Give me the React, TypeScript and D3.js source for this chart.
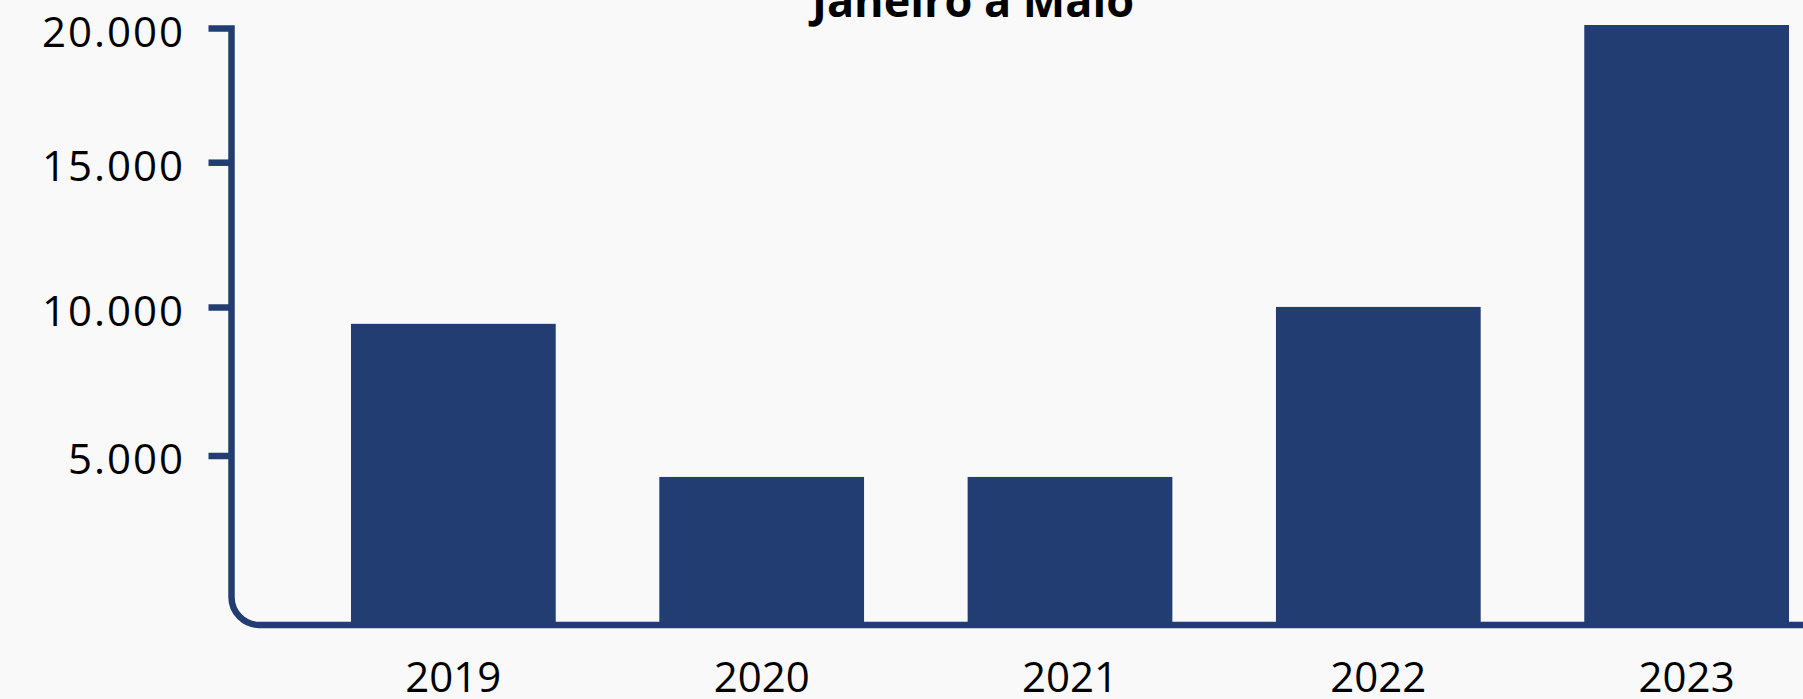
import React from "react";
import * as d3 from "d3";

const years = ["2019", "2020", "2021", "2022", "2023"];
const values = [9450, 4380, 4380, 10020, 20130];
const yTicks = [5000, 10000, 15000, 20000];
const title = "Janeiro a Maio";

const W = 1803;
const H = 699;
const BG = "#f9f9f9";
const NAVY = "#223d72";
const FONT = "'Open Sans', 'DejaVu Sans', sans-serif";

const ptBR = d3.formatLocale({
  decimal: ",",
  thousands: ".",
  grouping: [3],
  currency: ["R$", ""],
});
const fmt = ptBR.format(",");

export default function App() {
  const axisX = 231.5;
  const radius = 28;
  const y = d3
    .scaleLinear()
    .domain([0, 5000, 10000, 15000, 20000])
    .range([625, 456, 307.5, 162.7, 28.5]);
  const x = d3
    .scaleBand<string>()
    .domain(years)
    .range([351, 1789])
    .paddingInner(0.336)
    .paddingOuter(0);

  const y0 = y(0);
  const yTop = y(20000);
  const axisPath = `M${axisX - 23},${yTop} H${axisX} V${y0 - radius} A${radius},${radius} 0 0 0 ${axisX + radius},${y0} H${W}`;

  return (
    <svg
      width={W}
      height={H}
      style={{ position: "absolute", left: 0, top: 0, display: "block" }}
      fontFamily={FONT}
    >
      <rect x={0} y={0} width={W} height={H} fill={BG} />
      <text
        x={973}
        y={17}
        textAnchor="middle"
        fontWeight={700}
        fontSize={45}
        fill="#000"
      >
        {title}
      </text>
      {years.map((yr, i) => (
        <rect
          key={yr}
          x={x(yr)}
          y={y(values[i])}
          width={x.bandwidth()}
          height={y0 - y(values[i])}
          fill={NAVY}
        />
      ))}
      <path
        d={axisPath}
        fill="none"
        stroke={NAVY}
        strokeWidth={6.5}
        strokeLinejoin="miter"
      />
      {yTicks.slice(0, -1).map((t) => (
        <line
          key={t}
          x1={axisX - 23}
          x2={axisX}
          y1={y(t)}
          y2={y(t)}
          stroke={NAVY}
          strokeWidth={6.5}
        />
      ))}
      {yTicks.map((t) => (
        <text
          key={"l" + t}
          x={185}
          y={y(t) + 18}
          textAnchor="end"
          fontSize={42}
          letterSpacing={2}
          fill="#000"
        >
          {fmt(t)}
        </text>
      ))}
      {years.map((yr) => (
        <text
          key={"x" + yr}
          x={(x(yr) as number) + x.bandwidth() / 2}
          y={692}
          textAnchor="middle"
          fontSize={42}
          fill="#000"
        >
          {yr}
        </text>
      ))}
    </svg>
  );
}
